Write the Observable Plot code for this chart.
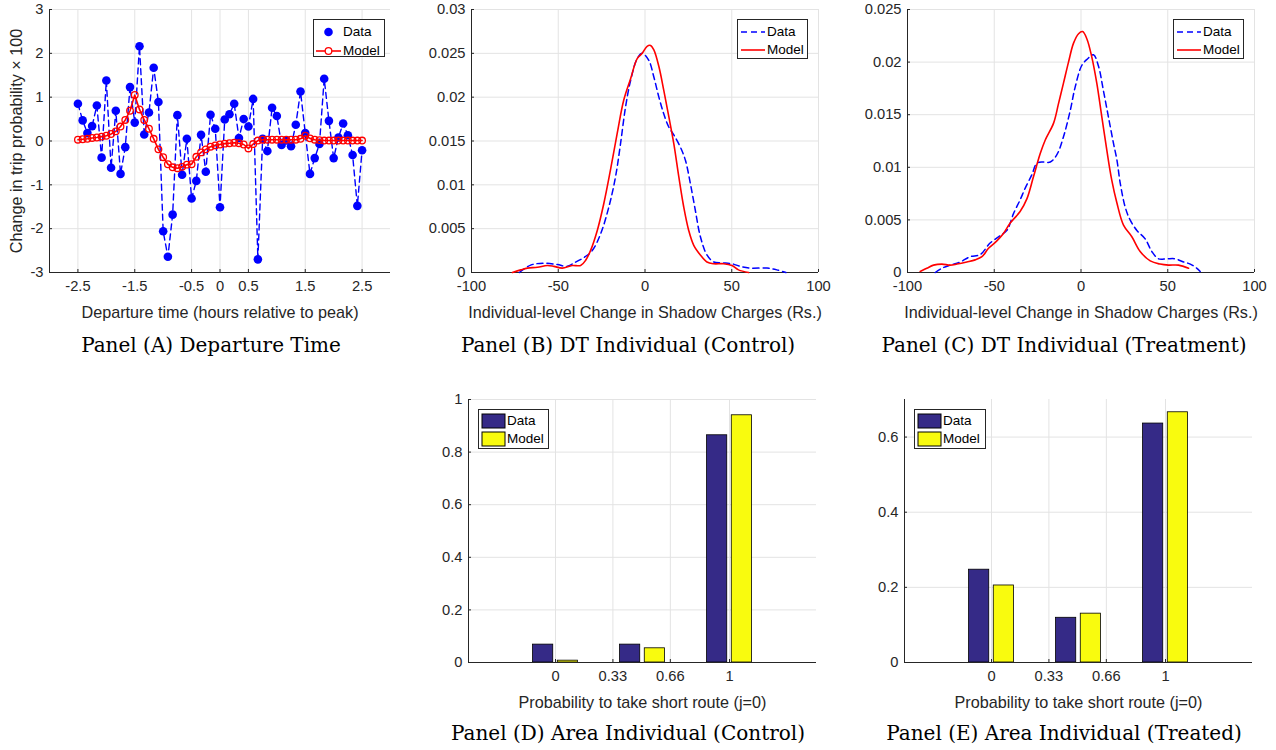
<!DOCTYPE html>
<html><head><meta charset="utf-8">
<script src="https://cdn.jsdelivr.net/npm/d3@7"></script>
<script src="https://cdn.jsdelivr.net/npm/@observablehq/plot@0.6"></script>
<style>
body{margin:0;background:#fff;}
#root{position:relative;width:1276px;height:750px;overflow:hidden;font-family:"Liberation Sans",Arial,sans-serif;background:#fff;}
.panel{position:absolute;}
.panel svg g[aria-label="x-axis tick label"], .panel svg g[aria-label="y-axis tick label"]{font-size:14.7px !important;font-family:"Liberation Sans",Arial,sans-serif !important;}
.cap{position:absolute;font-family:"DejaVu Serif",serif;font-size:20px;line-height:24px;color:#000;white-space:nowrap;transform:translateX(-50%);}
.leg{position:absolute;background:#fff;border:1px solid #262626;box-sizing:border-box;font-size:13.5px;color:#000;}
.leg svg{position:absolute;left:0;top:0;overflow:visible;}
.leg span{position:absolute;white-space:nowrap;}
</style></head><body><div id="root"></div>
<script>
// ---------- Panel A: departure time ----------
const depMinutes = [-150,-145,-140,-135,-130,-125,-120,-115,-110,-105,-100,-95,-90,-85,-80,-75,-70,-65,-60,-55,-50,-45,-40,-35,-30,-25,-20,-15,-10,-5,0,5,10,15,20,25,30,35,40,45,50,55,60,65,70,75,80,85,90,95,100,105,110,115,120,125,130,135,140,145,150];
const dataA = [0.85,0.47,0.18,0.34,0.81,-0.38,1.38,-0.61,0.69,-0.75,-0.14,1.23,0.42,2.16,0.15,0.65,1.67,0.89,-2.06,-2.64,-1.68,0.59,-0.77,0.05,-1.31,-0.91,0.14,-0.70,0.60,0.28,-1.51,0.49,0.61,0.85,0.07,0.50,0.33,0.96,-2.70,0.05,-0.23,0.76,0.57,-0.09,0.01,-0.12,0.37,1.13,0.18,-0.75,-0.39,-0.07,1.42,0.46,-0.39,0.08,0.40,0.13,-0.32,-1.48,-0.21];
const modelA = [0.03,0.04,0.05,0.07,0.08,0.10,0.12,0.16,0.22,0.33,0.48,0.69,1.05,0.72,0.48,0.28,0.05,-0.19,-0.37,-0.53,-0.60,-0.62,-0.59,-0.54,-0.53,-0.36,-0.26,-0.19,-0.13,-0.10,-0.08,-0.06,-0.05,-0.04,-0.05,-0.08,-0.17,-0.07,0.01,0.03,0.03,0.03,0.03,0.03,0.03,0.03,0.03,0.05,0.12,0.06,0.03,0.02,0.01,0.01,0.01,0.01,0.01,0.01,0.01,0.01,0.01];
const xTicksA = [-2.5,-1.5,-0.5,0,0.5,1.5,2.5];
const yTicksA = [-3,-2,-1,0,1,2,3];

// ---------- Panel B: DT individual (control) ----------
const bDataX = [-72.4,-65.9,-58.6,-50.5,-44.8,-40.9,-35.2,-30.4,-25.6,-20.8,-17,-14.1,-11.2,-8.3,-4.5,-1.6,2.2,5.1,8,10.8,13.7,16.6,20.4,23.3,26.1,29,31.9,35.7,39.6,44.4,50.1,54.9,60.7,70.3,76,81.2];
const bDataY = [0,0.00084,0.00106,0.0009,0.0007,0.0011,0.0017,0.0025,0.0044,0.0075,0.0109,0.0147,0.0189,0.0219,0.0244,0.0250,0.0242,0.0223,0.0200,0.0181,0.0166,0.0157,0.0143,0.0128,0.0102,0.0071,0.0041,0.0020,0.0012,0.0011,0.0010,0.0007,0.0005,0.0005,0.0003,0];
const bModelX = [-76.4,-71.6,-67.8,-62,-56.3,-52.5,-47.7,-42,-37.1,-34.2,-31.4,-27.5,-23.7,-19.9,-16,-12.2,-8.3,-4.5,-1.6,1.2,3.2,5.1,8,10.8,13.7,16.6,19.5,22.3,25.2,28.1,31.9,35.7,39.6,45.3,50.1,53.9,59.7];
const bModelY = [0,0.0003,0.0005,0.0006,0.0008,0.0007,0.0005,0.0008,0.0008,0.0014,0.0025,0.0048,0.0079,0.0117,0.0159,0.0197,0.0221,0.0244,0.0250,0.0258,0.0259,0.0254,0.0235,0.0208,0.0178,0.0147,0.0109,0.0075,0.0048,0.0031,0.0020,0.0012,0.0010,0.0010,0.0008,0.0003,0];
const xTicksBC = [-100,-50,0,50,100];
const yTicksB = [0,0.005,0.01,0.015,0.02,0.025,0.03];

// ---------- Panel C: DT individual (treatment) ----------
const cDataX = [-84,-80.2,-75.4,-69.6,-63.9,-58.1,-52.4,-46.6,-42.7,-38.9,-35.1,-32.2,-28.3,-25.4,-21.6,-17.7,-13.9,-10.1,-6.2,-3.4,0.5,3.7,7.2,10.1,12.9,15.8,18.7,20.7,22.6,25.5,28.3,32.2,37,40.8,44.7,49.5,54.3,59.1,63,66.8,68.7];
const cDataY = [0,0.0004,0.0007,0.0010,0.0015,0.0017,0.0028,0.0035,0.0040,0.0056,0.0069,0.0080,0.0093,0.0104,0.0105,0.0105,0.0112,0.0129,0.0154,0.0176,0.0197,0.0203,0.0207,0.0196,0.0173,0.0148,0.0123,0.0107,0.0085,0.0062,0.0050,0.0040,0.0032,0.0020,0.0013,0.0013,0.0013,0.0010,0.0008,0.0004,0.0001];
const cModelX = [-92.7,-88.9,-85,-80.2,-75.4,-71.5,-65.8,-61,-57.1,-53.3,-48.5,-44.7,-40.8,-35.1,-31.2,-27.4,-23.5,-20.6,-15.8,-12.9,-10.1,-7.2,-4.3,-1.4,0.9,3.4,6.2,9.1,12,14.9,17.7,20.7,24.5,29.3,34.1,39.9,45.6,50.4,56.2,62];
const cModelY = [0.0001,0.0004,0.0007,0.0008,0.0007,0.0008,0.0010,0.0012,0.0015,0.0023,0.0030,0.0037,0.0047,0.0058,0.0070,0.0091,0.0113,0.0126,0.0142,0.0161,0.0180,0.0200,0.0218,0.0227,0.0229,0.0222,0.0205,0.0180,0.0148,0.0116,0.0088,0.0066,0.0045,0.0034,0.0020,0.0011,0.0008,0.0007,0.0007,0.0004];
const yTicksC = [0,0.005,0.01,0.015,0.02,0.025];

// ---------- Panels D/E: area individual ----------
const barGroups = [0, 0.5, 1];
const dData = [0.068, 0.068, 0.864];
const dModel = [0.007, 0.054, 0.940];
const eData = [0.247, 0.119, 0.636];
const eModel = [0.205, 0.130, 0.666];
const xTicksDE = [0, 0.33, 0.66, 1];
const yTicksD = [0, 0.2, 0.4, 0.6, 0.8, 1];
const yTicksE = [0, 0.2, 0.4, 0.6];

const BLUE = "#0000ff", RED = "#ff0000", BAR_BLUE = "#352a87", BAR_YEL = "#f9fb0e";
const GRID = "#e3e3e3", AXIS = "#262626";
const FONT = '"Liberation Sans", Arial, sans-serif';
const fmt = d => String(d);
const root = document.getElementById("root");

function style() {
  return {fontFamily: FONT, fontSize: "14.7px", color: AXIS, background: "transparent", overflow: "visible"};
}

function axes(xTicks, yTicks, xDom, yDom, xLabel, yLabel) {
  return [
    Plot.gridX(xTicks, {stroke: GRID, strokeOpacity: 1}),
    Plot.gridY(yTicks, {stroke: GRID, strokeOpacity: 1}),
    Plot.ruleX([xDom[0]], {stroke: AXIS, strokeWidth: 1}),
    Plot.ruleY([yDom[0]], {stroke: AXIS, strokeWidth: 1}),
    Plot.axisX(xTicks, {tickFormat: fmt, tickSize: -3, tickPadding: 11, stroke: AXIS, fill: AXIS, fontSize: 14.7, label: null}),
    Plot.axisY(yTicks, {tickFormat: fmt, tickSize: -3, tickPadding: 9, stroke: AXIS, fill: AXIS, fontSize: 14.7, label: null}),
    Plot.axisX({ticks: [], tickSize: 0, label: xLabel, labelAnchor: "center", labelArrow: "none", labelOffset: 45, fontSize: 16.2, fill: AXIS}),
    ...(yLabel ? [Plot.axisY({ticks: [], tickSize: 0, label: yLabel, labelAnchor: "center", labelArrow: "none", labelOffset: 39, fontSize: 16.2, fill: AXIS})] : [])
  ];
}

function place(el, left, top) {
  const d = document.createElement("div");
  d.className = "panel";
  d.style.left = left + "px"; d.style.top = top + "px";
  d.appendChild(el);
  root.appendChild(d);
}

function caption(text, cx, cy) {
  const d = document.createElement("div");
  d.className = "cap"; d.textContent = text;
  d.style.left = cx + "px"; d.style.top = (cy - 12) + "px";
  root.appendChild(d);
}

function legend(left, top, w, h, items, symW, rowYs, textX) {
  const box = document.createElement("div");
  box.className = "leg";
  box.style.left = left + "px"; box.style.top = top + "px";
  box.style.width = w + "px"; box.style.height = h + "px";
  const ns = "http://www.w3.org/2000/svg";
  const svg = document.createElementNS(ns, "svg");
  svg.setAttribute("width", w); svg.setAttribute("height", h);
  items.forEach((it, i) => {
    const y = rowYs[i];
    const mk = (tag, attrs) => { const e = document.createElementNS(ns, tag); for (const k in attrs) e.setAttribute(k, attrs[k]); svg.appendChild(e); };
    const cx = symW[0] + (symW[1] - symW[0]) / 2;
    if (it.kind === "dot") mk("circle", {cx, cy: y, r: 4.3, fill: BLUE});
    if (it.kind === "lineCircle") { mk("line", {x1: symW[0], x2: symW[1], y1: y, y2: y, stroke: RED, "stroke-width": 1.6}); mk("circle", {cx, cy: y, r: 3.3, fill: "#fff", stroke: RED, "stroke-width": 1.3}); }
    if (it.kind === "dash") mk("line", {x1: symW[0], x2: symW[1], y1: y, y2: y, stroke: BLUE, "stroke-width": 1.6, "stroke-dasharray": "6,4"});
    if (it.kind === "line") mk("line", {x1: symW[0], x2: symW[1], y1: y, y2: y, stroke: RED, "stroke-width": 1.6});
    if (it.kind === "patchBlue") mk("rect", {x: symW[0], y: y - 7, width: symW[1] - symW[0], height: 14, fill: BAR_BLUE, stroke: "#000", "stroke-width": 1});
    if (it.kind === "patchYellow") mk("rect", {x: symW[0], y: y - 7, width: symW[1] - symW[0], height: 14, fill: BAR_YEL, stroke: "#000", "stroke-width": 1});
    const s = document.createElement("span");
    s.textContent = it.label;
    s.style.left = textX + "px"; s.style.top = (y - 9) + "px"; s.style.lineHeight = "18px";
    box.appendChild(s);
  });
  box.appendChild(svg);
  root.appendChild(box);
}

// ---- Panel A ----
const rowsA = depMinutes.map((m, i) => ({t: m / 60, data: dataA[i], model: modelA[i]}));
place(Plot.plot({
  width: 400, height: 330, marginLeft: 49, marginRight: 10, marginTop: 9, marginBottom: 58,
  x: {domain: [-3, 3]}, y: {domain: [-3, 3]},
  style: style(),
  marks: [
    ...axes(xTicksA, yTicksA, [-3, 3], [-3, 3], "Departure time (hours relative to peak)", "Change in trip probability × 100"),
    Plot.line(rowsA, {x: "t", y: "data", stroke: BLUE, strokeWidth: 1.4, strokeDasharray: "6,4"}),
    Plot.dot(rowsA, {x: "t", y: "data", fill: BLUE, r: 4.3}),
    Plot.line(rowsA, {x: "t", y: "model", stroke: RED, strokeWidth: 1.6}),
    Plot.dot(rowsA, {x: "t", y: "model", stroke: RED, fill: "none", r: 3.3, strokeWidth: 1.3})
  ]
}), 0, 0);

// ---- Panel B ----
const bData = bDataX.map((x, i) => ({x, y: bDataY[i]}));
const bModel = bModelX.map((x, i) => ({x, y: bModelY[i]}));
place(Plot.plot({
  width: 420, height: 330, marginLeft: 51, marginRight: 22, marginTop: 9, marginBottom: 58,
  x: {domain: [-100, 100]}, y: {domain: [0, 0.03]},
  style: style(),
  marks: [
    ...axes(xTicksBC, yTicksB, [-100, 100], [0, 0.03], "Individual-level Change in Shadow Charges (Rs.)", null),
    Plot.line(bData, {x: "x", y: "y", stroke: BLUE, strokeWidth: 1.5, strokeDasharray: "6,4", curve: "catmull-rom"}),
    Plot.line(bModel, {x: "x", y: "y", stroke: RED, strokeWidth: 1.6, curve: "catmull-rom"})
  ]
}), 420, 0);

// ---- Panel C ----
const cData = cDataX.map((x, i) => ({x, y: cDataY[i]}));
const cModel = cModelX.map((x, i) => ({x, y: cModelY[i]}));
place(Plot.plot({
  width: 426, height: 330, marginLeft: 57, marginRight: 22, marginTop: 9, marginBottom: 58,
  x: {domain: [-100, 100]}, y: {domain: [0, 0.025]},
  style: style(),
  marks: [
    ...axes(xTicksBC, yTicksC, [-100, 100], [0, 0.025], "Individual-level Change in Shadow Charges (Rs.)", null),
    Plot.line(cData, {x: "x", y: "y", stroke: BLUE, strokeWidth: 1.5, strokeDasharray: "6,4", curve: "catmull-rom"}),
    Plot.line(cModel, {x: "x", y: "y", stroke: RED, strokeWidth: 1.6, curve: "catmull-rom"})
  ]
}), 850, 0);

// ---- Bars D/E ----
function barPanel(dataVals, modelVals, yDom, yTicks, ml, w) {
  const rows = [];
  barGroups.forEach((g, i) => {
    rows.push({g, series: "Data", v: dataVals[i]});
    rows.push({g, series: "Model", v: modelVals[i]});
  });
  const half = 0.058, gap = 0.071;
  return Plot.plot({
    width: w, height: 340, marginLeft: ml, marginRight: 24, marginTop: 19, marginBottom: 58,
    x: {domain: [-0.5, 1.5]}, y: {domain: yDom},
    style: style(),
    marks: [
      ...axes(xTicksDE, yTicks, [-0.5, 1.5], yDom, "Probability to take short route (j=0)", null),
      Plot.rectY(rows, {
        x1: d => d.g + (d.series === "Data" ? -gap : gap) - half,
        x2: d => d.g + (d.series === "Data" ? -gap : gap) + half,
        y1: 0, y2: "v",
        fill: d => d.series === "Data" ? BAR_BLUE : BAR_YEL,
        stroke: "#000", strokeWidth: 0.8
      }),
      Plot.ruleY([yDom[0]], {stroke: AXIS})
    ]
  });
}
place(barPanel(dData, dModel, [0, 1], yTicksD, 48, 420), 420, 380);
place(barPanel(eData, eModel, [0, 0.7], yTicksE, 54, 426), 850, 380);

// ---- Legends ----
legend(313, 19, 72, 38, [{label: "Data", kind: "dot"}, {label: "Model", kind: "lineCircle"}], [2, 27], [12, 31], 29);
legend(737, 19, 71, 40, [{label: "Data", kind: "dash"}, {label: "Model", kind: "line"}], [3, 27], [12, 30], 29);
legend(1173, 19, 71, 40, [{label: "Data", kind: "dash"}, {label: "Model", kind: "line"}], [3, 27], [12, 30], 29);
legend(478, 409, 71, 40, [{label: "Data", kind: "patchBlue"}, {label: "Model", kind: "patchYellow"}], [3, 26], [11, 29], 28);
legend(914, 409, 72, 40, [{label: "Data", kind: "patchBlue"}, {label: "Model", kind: "patchYellow"}], [3, 26], [11, 29], 28);

// ---- Captions ----
caption("Panel (A) Departure Time", 211, 345);
caption("Panel (B) DT Individual (Control)", 628, 345);
caption("Panel (C) DT Individual (Treatment)", 1064, 345);
caption("Panel (D) Area Individual (Control)", 628, 733);
caption("Panel (E) Area Individual (Treated)", 1064, 733);
</script></body></html>
